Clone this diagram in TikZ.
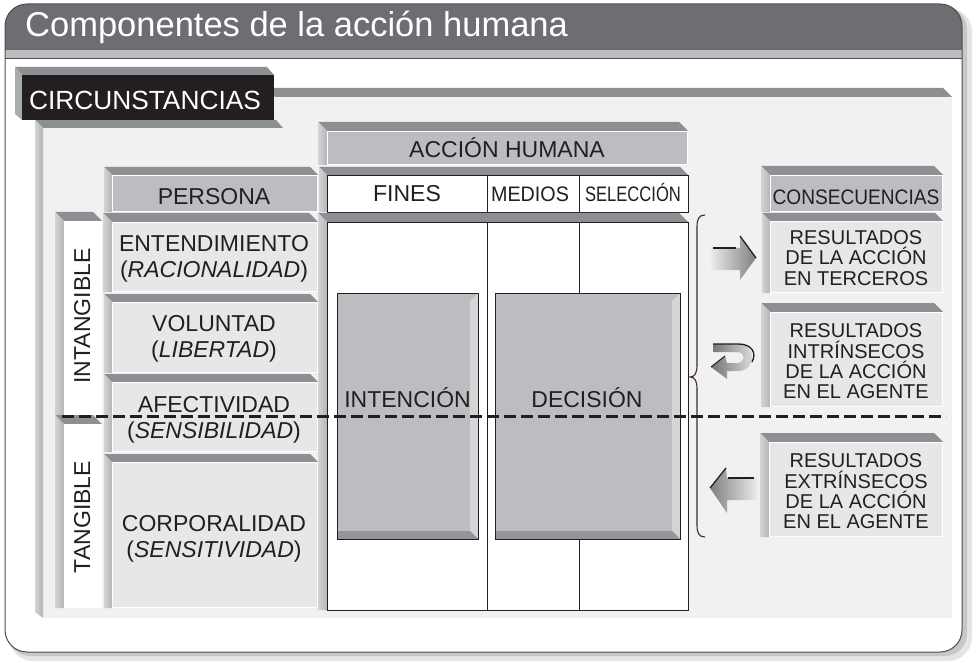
\documentclass[tikz,border=0pt]{standalone}
\usepackage{fontspec}
\setmainfont{Liberation Sans}
\definecolor{ink}{HTML}{231F20}
\definecolor{hdr}{HTML}{6D6E71}
\definecolor{stripc}{HTML}{BCBDC0}
\definecolor{topbev}{HTML}{8E8F92}
\definecolor{leftbev}{HTML}{C8C9CB}
\definecolor{panelface}{HTML}{F1F1F2}
\definecolor{lightface}{HTML}{E6E7E8}
\definecolor{headface}{HTML}{BCBDC0}
\definecolor{boxface}{HTML}{BCBDC0}
\definecolor{boxright}{HTML}{D4D5D7}
\definecolor{boxbottom}{HTML}{939598}
\definecolor{cardline}{HTML}{4D4D4F}
\definecolor{bracec}{HTML}{3B3026}
\newcommand{\bevbox}[6]{%
  \fill[topbev] (#1-#5,#2-#5) -- (#3-#5,#2-#5) -- (#3,#2) -- (#1,#2) -- cycle;
  \shade[left color=leftbev!80!white, right color=leftbev!90!black] (#1-#5,#2-#5) -- (#1,#2) -- (#1,#4) -- (#1-#5,#4) -- cycle;
  \fill[#6] (#1,#2) rectangle (#3,#4);
  \draw[white, line width=0.8pt] (#1+0.4,#2+0.4) rectangle (#3-0.4,#4-0.4);
}
\newcommand{\innerbox}[4]{%
  \fill[boxface] (#1,#2) rectangle (#3,#4);
  \fill[boxright] (#3-8,#2+8) -- (#3,#2) -- (#3,#4) -- (#3-8,#4-8) -- cycle;
  \fill[boxbottom] (#1,#4-8) -- (#3-8,#4-8) -- (#3,#4) -- (#1,#4) -- cycle;
  \draw[ink, line width=0.8pt] (#1,#2) rectangle (#3,#4);
}
\tikzset{
  lbl/.style={text=ink, font=\fontsize{23}{26}\selectfont, inner sep=0pt},
  reslbl/.style={text=ink, font=\fontsize{20}{20.3}\selectfont, align=center, inner sep=0pt},
  dashline/.style={ink, line width=3pt, dash pattern=on 12pt off 5pt},
  tableline/.style={ink, line width=0.8pt}
}
\begin{document}
\begin{tikzpicture}[x=1pt,y=-1pt]
\useasboundingbox (0,0) rectangle (980,663);
% card shadow
\fill[black!10, rounded corners=24] (9,8) rectangle (972,661);
\fill[black!22, rounded corners=22] (8,7) rectangle (967,656);
% card
\begin{scope}
  \clip[rounded corners=22] (5,4) rectangle (962,652);
  \fill[white] (5,4) rectangle (962,652);
  \fill[hdr] (5,4) rectangle (962,50);
  \fill[stripc] (5,50) rectangle (962,58);
  \draw[cardline, line width=0.8pt] (5,58) -- (962,58);
\end{scope}
\draw[cardline, line width=1pt, rounded corners=22] (5,4) rectangle (962,652);
\node[anchor=base west, text=white, font=\fontsize{34.5}{40}\selectfont, inner sep=0pt] (title) at (25,37) {Componentes de la acción humana};

% circunstancias panel
\fill[panelface] (43,97) rectangle (952,618);
\fill[topbev] (268,88) -- (943,88) -- (952,97) -- (275,97) -- cycle;
\fill[topbev] (35,120) -- (276,120) -- (283,128) -- (43,128) -- cycle;
\shade[left color=leftbev!80!white, right color=leftbev!90!black] (35,120) -- (43,128) -- (43,618) -- (35,612) -- cycle;
% circunstancias label
\fill[topbev] (15,67) -- (267,67) -- (274,75) -- (22,75) -- cycle;
\fill[leftbev!85!black] (15,67) -- (22,75) -- (22,120) -- (15,114) -- cycle;
\fill[ink] (22,75) rectangle (274,120);
\node[anchor=base, text=white, font=\fontsize{26.3}{30}\selectfont, inner sep=0pt] (circ) at (145,110) {CIRCUNSTANCIAS};

% accion humana
\bevbox{327}{131}{688}{165}{9}{headface}
\node[lbl, anchor=base] (accion) at (507,158) {ACCIÓN HUMANA};
\bevbox{327}{175}{688}{212}{8}{white}
\draw[tableline] (327,175) rectangle (688,212);
\draw[tableline] (487,175) -- (487,212);
\draw[tableline] (579,175) -- (579,212);
\node[lbl, anchor=base] (fines) at (407,202) {FINES};
\node[lbl, anchor=base, font=\fontsize{21}{24}\selectfont] (medios) at (530,202) {\scalebox{0.94}[1]{MEDIOS}};
\node[lbl, anchor=base, font=\fontsize{21}{24}\selectfont] (seleccion) at (633,202) {\scalebox{0.79}[1]{SELECCIÓN}};
\bevbox{327}{222}{688}{610}{9}{white}
\draw[tableline] (327,222) rectangle (688,610);
\draw[tableline] (487,222) -- (487,610);
\draw[tableline] (579,222) -- (579,610);
\innerbox{337}{293}{478}{539}
\innerbox{495}{293}{680}{539}
\node[lbl, anchor=base] (intencion) at (407.5,407) {INTENCIÓN};
\node[lbl, anchor=base] (decision) at (587,407) {DECISIÓN};

% persona
\bevbox{112}{175}{318}{212}{8}{headface}
\node[lbl, anchor=base] (persona) at (214,205) {PERSONA};
\bevbox{112}{222}{318}{292}{9}{lightface}
\node[lbl, align=center] (entend) at (214,258.4) {ENTENDIMIENTO\\(\textit{RACIONALIDAD})};
\bevbox{112}{302}{318}{373}{8}{lightface}
\node[lbl, align=center] (volunt) at (214,338.9) {VOLUNTAD\\(\textit{LIBERTAD})};
\bevbox{112}{382}{318}{452}{8}{lightface}
\node[lbl, align=center] (afect) at (214,419.9) {AFECTIVIDAD\\(\textit{SENSIBILIDAD})};
\bevbox{112}{462}{318}{608}{8}{lightface}
\node[lbl, align=center] (corpo) at (214,538.4) {CORPORALIDAD\\(\textit{SENSITIVIDAD})};

% intangible / tangible
\bevbox{64}{221}{102}{415}{9}{white}
\node[lbl, anchor=base, rotate=90] (intang) at (90,316) {INTANGIBLE};
\bevbox{64}{424}{102}{608}{9}{white}
\node[lbl, anchor=base, rotate=90] (tang) at (90,517) {TANGIBLE};

% consecuencias
\bevbox{770}{175}{943}{212}{9}{headface}
\node[lbl, anchor=base, font=\fontsize{21}{24}\selectfont] (conse) at (856,205) {\scalebox{0.91}[1]{CONSECUENCIAS}};
\bevbox{770}{221}{943}{293}{8}{lightface}
\node[reslbl] (terceros) at (856,257.9) {RESULTADOS\\DE LA ACCIÓN\\EN TERCEROS};
\bevbox{770}{312}{943}{407}{9}{lightface}
\node[reslbl] (intrin) at (856,361.4) {RESULTADOS\\INTRÍNSECOS\\DE LA ACCIÓN\\EN EL AGENTE};
\bevbox{769}{442}{943}{537}{9}{lightface}
\node[reslbl] (extrin) at (856,491.4) {RESULTADOS\\EXTRÍNSECOS\\DE LA ACCIÓN\\EN EL AGENTE};

% brace
\draw[bracec, line width=1.1pt] (705,215) .. controls (699,215) and (697,219) .. (697,227) -- (697,365) .. controls (697,373) and (695,377) .. (690,377) .. controls (695,377) and (697,381) .. (697,389) -- (697,525) .. controls (697,533) and (699,537) .. (705,537);

% arrow to terceros
\shade[left color=black!8, right color=black!50] (711,248) -- (740,248) -- (740,236) -- (756,258) -- (740,280) -- (740,270) -- (711,270) -- cycle;
\draw[ink, line width=1.3pt] (713,248) -- (736,248);
\draw[ink, line width=1.3pt] (740,236) -- (756,258);
% return arrow (intrinsecos)
\shade[left color=black!55, right color=black!10] (713,344) -- (738,344) .. controls (757,344) and (757,371) .. (738,371) -- (727,371) -- (727,379) -- (711,367) -- (725,356) -- (727,363) -- (737,363) .. controls (746,363) and (746,352) .. (737,352) -- (713,352) -- cycle;
\draw[ink, line width=1.3pt] (713,344) -- (738,344) .. controls (752,344) and (757,353) .. (752,362);
\draw[ink, line width=1pt] (725,356) -- (711,367);
% arrow from extrinsecos
\shade[left color=black!50, right color=black!8] (710,488) -- (726,468) -- (727,478) -- (757,478) -- (757,500) -- (727,500) -- (727,513) -- cycle;
\draw[ink, line width=1.3pt] (728,478) -- (754,478);
\draw[ink, line width=1.3pt] (726,468) -- (710,488);

% dashed separator
\coordinate (dashL) at (62,416);
\coordinate (dashR) at (946,416);
\draw[dashline] (dashL) -- (dashR);
\end{tikzpicture}
\end{document}
